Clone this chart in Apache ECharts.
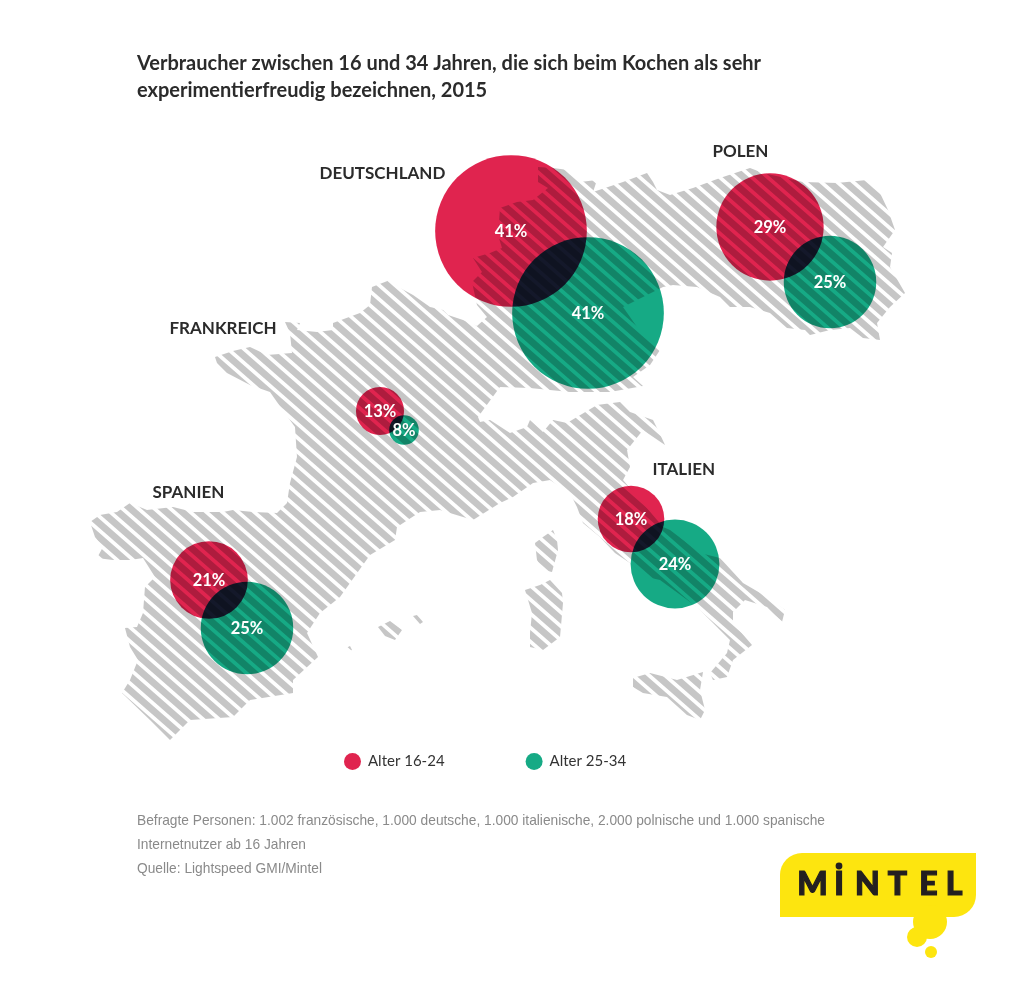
<!DOCTYPE html>
<html lang="de">

<head>
    <meta charset="UTF-8">
    <title>Mintel</title>
    <style>
        html, body { margin: 0; padding: 0; background: #fff; }
    </style>
</head>
<script src="https://cdn.jsdelivr.net/npm/echarts@6/dist/echarts.min.js"></script>

<body>
    <div id="main" style="width: 1024px;height: 998px;"></div>

    <script type="text/javascript">
        // values
        var countries = ['Deutschland', 'Polen', 'Frankreich', 'Italien', 'Spanien'];
        var age1624 = [41, 29, 13, 18, 21];
        var age2534 = [41, 25, 8, 24, 25];

        // where the bubbles sit on the map
        var anchors1624 = [[511, 231], [770, 227], [380, 411], [631, 519], [209, 580]];
        var anchors2534 = [[588, 313], [830, 282], [404, 430], [675, 564], [247, 628]];

        var countryLabels = ['DEUTSCHLAND', 'POLEN', 'FRANKREICH', 'ITALIEN', 'SPANIEN'];
        var countryLabelAnchors = [[319, 174], [712, 152], [169, 329], [652, 470], [152, 493]];

        // map outlines, same coordinate space as the bubbles
        var mainland = [
            [90, 522], [100, 515], [117, 512], [130, 503], [147, 510], [173, 507], [193, 512], [223, 512],
            [233, 510], [253, 512], [277, 513], [287, 503], [290, 483], [297, 457], [295, 427], [277, 402],
            [270, 392], [250, 385], [227, 373], [217, 363], [215, 357], [233, 351], [250, 347], [267, 355],
            [292, 353], [290, 333], [285, 322], [300, 323], [297, 330], [317, 332], [333, 330], [333, 323],
            [360, 313], [370, 305], [372, 287], [390, 280], [400, 288], [413, 295], [430, 307], [443, 310],
            [448, 315], [463, 320], [477, 326], [487, 317], [477, 305], [472, 282], [482, 272], [473, 258],
            [490, 253], [502, 248], [498, 235], [500, 208], [517, 202], [533, 200], [548, 188], [538, 182],
            [538, 167], [553, 168], [568, 170], [580, 182], [597, 180], [593, 192], [623, 182], [647, 173],
            [653, 182], [657, 190], [670, 195], [693, 188], [720, 178], [750, 168], [763, 173], [803, 182],
            [837, 183], [867, 180], [880, 193], [888, 210], [895, 230], [883, 247], [892, 253], [890, 267],
            [905, 293], [890, 307], [877, 323], [880, 340], [863, 338], [850, 328], [830, 330], [810, 335],
            [805, 330], [787, 328], [770, 313], [750, 307], [730, 307], [720, 297], [697, 287], [673, 285],
            [663, 287], [623, 307], [637, 327], [660, 350], [650, 365], [633, 377], [643, 386], [610, 392],
            [570, 392], [530, 388], [500, 387], [478, 417], [480, 422], [490, 420], [510, 433], [527, 427],
            [530, 420], [543, 432], [553, 420], [567, 423], [597, 405], [620, 402], [630, 412], [653, 420],
            [658, 430], [665, 445], [643, 430], [627, 450], [630, 467], [623, 480], [640, 500], [663, 527],
            [670, 530], [700, 553], [720, 558], [743, 583], [767, 597], [785, 610], [782, 622], [767, 607],
            [745, 600], [733, 612], [733, 623], [752, 645], [733, 660], [727, 677], [713, 680], [710, 673],
            [727, 653], [730, 640], [717, 627], [697, 607], [660, 580], [647, 577], [630, 563], [615, 553],
            [600, 537], [583, 523], [577, 507], [570, 493], [550, 480], [533, 483], [513, 497], [500, 503],
            [473, 520], [440, 510], [420, 512], [397, 527], [395, 540], [370, 555], [340, 597], [320, 613],
            [307, 633], [318, 657], [293, 680], [293, 693], [250, 700], [233, 717], [190, 720], [170, 740],
            [150, 720], [122, 693], [130, 680], [138, 660], [130, 647], [125, 628], [137, 627], [143, 613],
            [145, 587], [155, 577], [143, 558], [130, 560], [113, 560], [97, 558], [103, 547], [95, 537]
        ];
        var corsica = [[553, 530], [557, 540], [558, 550], [552, 572], [543, 570], [537, 560], [535, 543], [543, 537]];
        var sardinia = [[550, 580], [562, 593], [563, 603], [560, 637], [543, 650], [530, 647], [530, 633], [532, 613], [525, 590], [540, 585]];
        var sicily = [[633, 678], [650, 673], [677, 680], [703, 672], [700, 690], [705, 710], [700, 720], [687, 715], [667, 697], [643, 693], [633, 687]];
        var mallorca = [[378, 627], [390, 621], [402, 630], [395, 640], [385, 636]];
        var menorca = [[413, 616], [417, 615], [423, 622], [420, 624]];
        var ibiza = [[346, 648], [350, 646], [352, 650], [348, 652]];
        var mapShapes = [mainland, corsica, sardinia, sicily, mallorca, menorca, ibiza];

        var RED = '#e0244f';
        var GREEN = '#16aa85';
        var LATO = 'Lato, "Noto Sans", sans-serif';

        // diagonal stripes for the map
        function makeStripes() {
            var w = 16, h = 14, shift = 2.5;
            var c = document.createElement('canvas');
            c.width = w;
            c.height = h;
            var ctx = c.getContext('2d');
            ctx.fillStyle = '#fff';
            ctx.fillRect(0, 0, w, h);
            ctx.strokeStyle = '#c6c6c6';
            ctx.lineWidth = 6.8;
            for (var i = -2; i <= 2; i++) {
                ctx.beginPath();
                ctx.moveTo(-w, -h + shift + i * h);
                ctx.lineTo(2 * w, 2 * h + shift + i * h);
                ctx.stroke();
            }
            return c;
        }
        var stripes = makeStripes();

        function bubbleData(values, anchors) {
            return values.map(function (v, i) {
                return { name: countries[i], value: [anchors[i][0], anchors[i][1], v] };
            });
        }

        function bubbleSeries(name, values, anchors, color) {
            return {
                name: name,
                type: 'scatter',
                data: bubbleData(values, anchors),
                symbolSize: function (d) { return d[2] * 3.7; },
                itemStyle: { color: color, opacity: 1 },
                blendMode: 'multiply',
                emphasis: { disabled: true },
                silent: true,
                z: 3
            };
        }

        function valueLabels(name, values, anchors) {
            return {
                name: name,
                type: 'scatter',
                data: bubbleData(values, anchors),
                symbolSize: 1,
                itemStyle: { color: 'transparent', opacity: 1 },
                label: {
                    show: true,
                    position: 'inside',
                    offset: [0, 1],
                    formatter: function (p) { return p.value[2] + '%'; },
                    color: '#fff',
                    fontFamily: LATO,
                    fontWeight: 'bold',
                    fontSize: 16.5
                },
                silent: true,
                z: 5
            };
        }

        var logoLetters = ['M', 'I', 'N', 'T', 'E', 'L'];
        var logoLetterX = [812.5, 839, 867.5, 897.5, 928.5, 954];

        var option = {
            animation: false,
            backgroundColor: '#fff',
            title: [{
                text: 'Verbraucher zwischen 16 und 34 Jahren, die sich beim Kochen als sehr\nexperimentierfreudig bezeichnen, 2015',
                left: 137,
                top: 50,
                padding: 0,
                textStyle: { fontFamily: LATO, fontWeight: 'bold', fontSize: 20, lineHeight: 27, color: '#2b2b2b' }
            }, {
                text: 'Befragte Personen: 1.002 französische, 1.000 deutsche, 1.000 italienische, 2.000 polnische und 1.000 spanische\nInternetnutzer ab 16 Jahren\nQuelle: Lightspeed GMI/Mintel',
                left: 137,
                top: 809,
                padding: 0,
                textStyle: { fontFamily: '"Liberation Sans", Arial, sans-serif', fontWeight: 'normal', fontSize: 13.75, lineHeight: 24, color: '#8a8a8a' }
            }],
            legend: {
                data: ['Alter 16-24', 'Alter 25-34'],
                left: 339,
                top: 748,
                icon: 'circle',
                itemWidth: 17,
                itemHeight: 17,
                itemGap: 81,
                selectedMode: false,
                textStyle: { fontFamily: LATO, fontSize: 15, color: '#333', padding: [0, 0, 0, 2] }
            },
            grid: { left: 0, right: 0, top: 0, bottom: 0 },
            xAxis: { type: 'value', min: 0, max: 1024, show: false },
            yAxis: { type: 'value', min: 0, max: 998, inverse: true, show: false },
            series: [{
                name: 'Karte',
                type: 'custom',
                silent: true,
                z: 1,
                data: mapShapes.map(function (s, i) { return [i]; }),
                renderItem: function (params, api) {
                    var pts = mapShapes[params.dataIndex].map(function (p) { return api.coord(p); });
                    return {
                        type: 'polygon',
                        shape: { points: pts },
                        style: { fill: { image: stripes, repeat: 'repeat' } }
                    };
                }
            },
            bubbleSeries('Alter 16-24', age1624, anchors1624, RED),
            bubbleSeries('Alter 25-34', age2534, anchors2534, GREEN),
            valueLabels('labels1624', age1624, anchors1624),
            valueLabels('labels2534', age2534, anchors2534),
            {
                name: 'Laender',
                type: 'scatter',
                symbolSize: 1,
                silent: true,
                z: 5,
                itemStyle: { color: 'transparent', opacity: 1 },
                data: countryLabels.map(function (n, i) {
                    return { name: n, value: countryLabelAnchors[i] };
                }),
                label: {
                    show: true,
                    position: 'right',
                    distance: 0,
                    formatter: '{b}',
                    color: '#2b2b2b',
                    fontFamily: LATO,
                    fontWeight: 'bold',
                    fontSize: 17
                }
            }],
            graphic: [{
                type: 'group',
                silent: true,
                children: [
                    { type: 'rect', shape: { x: 780, y: 853, width: 196, height: 64, r: [22, 0, 22, 0] }, style: { fill: '#fde50f' } },
                    { type: 'circle', shape: { cx: 930, cy: 922, r: 17 }, style: { fill: '#fde50f' } },
                    { type: 'circle', shape: { cx: 917, cy: 937, r: 10 }, style: { fill: '#fde50f' } },
                    { type: 'circle', shape: { cx: 931, cy: 952, r: 6 }, style: { fill: '#fde50f' } },
                    { type: 'circle', shape: { cx: 839, cy: 866, r: 3.4 }, style: { fill: '#231f20' } }
                ].concat(logoLetters.map(function (l, i) {
                    return {
                        type: 'text',
                        x: logoLetterX[i],
                        y: 885,
                        style: { text: l, fill: '#231f20', stroke: '#231f20', lineWidth: 1.2, font: '900 32px Lato, sans-serif', align: 'center', verticalAlign: 'middle' }
                    };
                }))
            }]
        };

        var myChart = echarts.init(document.getElementById('main'));
        myChart.setOption(option);
    </script>
</body>

</html>
